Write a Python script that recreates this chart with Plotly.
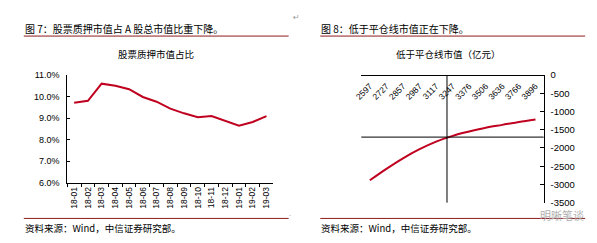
import plotly.graph_objects as go

W, H = 597, 243

# ---- Data ----
months = ["18-01", "18-02", "18-03", "18-04", "18-05", "18-06", "18-07", "18-08",
          "18-09", "18-10", "18-11", "18-12", "19-01", "19-02", "19-03"]
pledge_ratio = [9.71, 9.80, 10.60, 10.50, 10.34, 9.98, 9.76, 9.44,
                9.22, 9.04, 9.09, 8.86, 8.64, 8.82, 9.09]
left_yticks = [6, 7, 8, 9, 10, 11]

index_levels = [2597, 2727, 2857, 2987, 3117, 3247, 3376, 3506, 3636, 3766, 3896]
below_line_value = [-2885, -2571, -2283, -2034, -1825, -1668, -1550, -1445, -1367, -1288, -1217]
right_yticks = [0, -500, -1000, -1500, -2000, -2500, -3000, -3500]
cross_x = 3202
cross_y = -1702

RED = "#C0001F"
MAROON = "#8E1B1E"
CJK = "Noto Sans CJK SC"
LAT = "Liberation Sans"


def px(x):
    return x / W


def py(y):
    return 1 - y / H


fig = go.Figure()

fig.add_trace(go.Scatter(x=months, y=pledge_ratio, mode="lines",
                         line=dict(color=RED, width=2), xaxis="x", yaxis="y",
                         showlegend=False, hoverinfo="skip"))
fig.add_trace(go.Scatter(x=index_levels, y=below_line_value, mode="lines",
                         line=dict(color=RED, width=2, shape="spline"),
                         xaxis="x2", yaxis="y2", showlegend=False, hoverinfo="skip"))

fig.update_layout(
    width=W, height=H, margin=dict(l=0, r=0, t=0, b=0),
    paper_bgcolor="white", plot_bgcolor="white",
    font=dict(family=LAT, color="black"),
    xaxis=dict(domain=[px(61), px(269.5)], anchor="y", type="category",
               range=[-0.5, len(months) - 0.5], tickangle=-90,
               tickfont=dict(size=8.5, family=LAT), showline=True,
               linecolor="black", linewidth=1, ticks="outside", ticklen=3,
               tickcolor="black", tickson="boundaries", showgrid=False,
               zeroline=False),
    yaxis=dict(domain=[py(185), py(72.3)], anchor="x", range=[6, 11],
               tickvals=left_yticks, ticktext=[f"{v:.1f}%" for v in left_yticks],
               tickfont=dict(size=9, family=LAT), showline=True,
               linecolor="black", linewidth=1, ticks="inside", ticklen=3,
               tickcolor="black", showgrid=False, zeroline=False,
               ticklabelstandoff=5),
    xaxis2=dict(domain=[px(358.5), px(543)], anchor="free", position=py(72.3),
                side="bottom", range=[2530, 3960], tickvals=index_levels,
                ticktext=[str(v) for v in index_levels], tickangle=-45,
                tickfont=dict(size=8.5, family=LAT), showline=True,
                linecolor="black", linewidth=1, ticks="", showgrid=False,
                zeroline=False, ticklabelstandoff=2),
    yaxis2=dict(domain=[py(206), py(72.3)], anchor="x2", side="right",
                range=[-3500, 0], tickvals=right_yticks,
                ticktext=[str(v) for v in right_yticks],
                tickfont=dict(size=9.5, family=LAT), showline=True,
                linecolor="black", linewidth=1, ticks="inside", ticklen=4,
                tickcolor="black", showgrid=False, zeroline=False,
                ticklabelstandoff=4),
)

shapes = [
    # crossing lines in right chart
    dict(type="line", xref="x2 domain", yref="y2", x0=0, x1=1, y0=cross_y, y1=cross_y,
         line=dict(color="black", width=1)),
    dict(type="line", xref="x2", yref="y2 domain", x0=cross_x, x1=cross_x, y0=0, y1=1,
         line=dict(color="black", width=1)),
]
# header / footer rules
for x0, x1 in [(17, 285), (317, 585)]:
    for yy in (31.5, 222.5):
        shapes.append(dict(type="line", xref="paper", yref="paper",
                           x0=px(x0), x1=px(x1), y0=py(yy), y1=py(yy),
                           line=dict(color=MAROON, width=1)))
fig.update_layout(shapes=shapes)


def txt(x, y, s, size, xanchor="left", color="black", family=CJK):
    fig.add_annotation(x=px(x), y=py(y), xref="paper", yref="paper", text=s,
                       showarrow=False, xanchor=xanchor, yanchor="middle",
                       font=dict(size=size, color=color, family=family))


txt(16, 24, "图 7：股票质押市值占 A 股总市值比重下降。", 10)
txt(316, 24, "图 8：低于平仓线市值正在下降。", 10)
txt(150.5, 50, "股票质押市值占比", 9.5, xanchor="center")
txt(447, 50, "低于平仓线市值（亿元）", 9.5, xanchor="center")
txt(16, 233, "资料来源：Wind，中信证券研究部。", 9.5)
txt(316, 233, "资料来源：Wind，中信证券研究部。", 9.5)
txt(293, 12, "↵", 8, xanchor="center", color="#999999", family="DejaVu Sans")
txt(286, 217, ".", 7, xanchor="center", color="#999999")
txt(562, 218.5, "明晰笔谈", 11, xanchor="center", color="#B0B0B0")

fig.write_html("out.html")
